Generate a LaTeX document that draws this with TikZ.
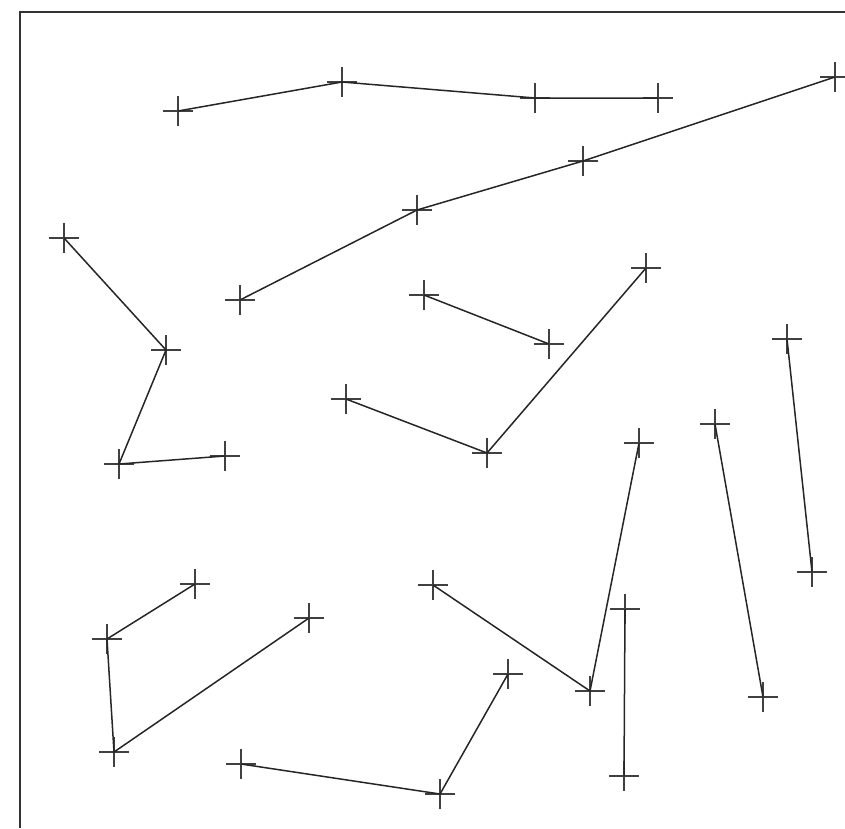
\documentclass[tikz,border=0pt]{standalone}
\begin{document}
\begin{tikzpicture}[x=1pt,y=-1pt,
  mk/.style={inner sep=0pt, minimum size=30pt,
    path picture={\draw[black!75, line width=1.7pt]
      (path picture bounding box.north) -- (path picture bounding box.south)
      (path picture bounding box.west) -- (path picture bounding box.east);}},
  seg/.style={draw=black!85, line width=1.5pt}]
\useasboundingbox (0,0) rectangle (845,828);
\draw[black!80, line width=1.2pt] (20,828) -- (20,12) -- (845,12);
% group A
\node[mk] (a1) at (178,111) {};
\node[mk] (a2) at (342,82) {};
\node[mk] (a3) at (535,98) {};
\node[mk] (a4) at (658,98) {};
\draw[seg] (a1.center) -- (a2.center) -- (a3.center) -- (a4.center);
% group B
\node[mk] (b1) at (835,77) {};
\node[mk] (b2) at (583,161) {};
\node[mk] (b3) at (417,210) {};
\node[mk] (b4) at (240,300) {};
\draw[seg] (b1.center) -- (b2.center) -- (b3.center) -- (b4.center);
% group C
\node[mk] (c1) at (64,238) {};
\node[mk] (c2) at (166,350) {};
\node[mk] (c3) at (119,464) {};
\node[mk] (c4) at (225,456) {};
\draw[seg] (c1.center) -- (c2.center) -- (c3.center) -- (c4.center);
% group D
\node[mk] (d1) at (424,295) {};
\node[mk] (d2) at (549,344) {};
\draw[seg] (d1.center) -- (d2.center);
% group E
\node[mk] (e1) at (346,399) {};
\node[mk] (e2) at (487,453) {};
\node[mk] (e3) at (646,268) {};
\draw[seg] (e1.center) -- (e2.center) -- (e3.center);
% group F
\node[mk] (f1) at (433,585) {};
\node[mk] (f2) at (590,691) {};
\node[mk] (f3) at (639,443) {};
\draw[seg] (f1.center) -- (f2.center) -- (f3.center);
% group H
\node[mk] (h1) at (715,424) {};
\node[mk] (h2) at (763,697) {};
\draw[seg] (h1.center) -- (h2.center);
% group I
\node[mk] (i1) at (787,339) {};
\node[mk] (i2) at (812,572) {};
\draw[seg] (i1.center) -- (i2.center);
% group J
\node[mk] (j1) at (625,609) {};
\node[mk] (j2) at (624,776) {};
\draw[seg] (j1.center) -- (j2.center);
% group K
\node[mk] (k1) at (195,584) {};
\node[mk] (k2) at (107,639) {};
\node[mk] (k3) at (114,752) {};
\node[mk] (k4) at (309,618) {};
\draw[seg] (k1.center) -- (k2.center) -- (k3.center) -- (k4.center);
% group L
\node[mk] (l1) at (241,764) {};
\node[mk] (l2) at (440,794) {};
\node[mk] (l3) at (508,674) {};
\draw[seg] (l1.center) -- (l2.center) -- (l3.center);
\end{tikzpicture}
\end{document}
